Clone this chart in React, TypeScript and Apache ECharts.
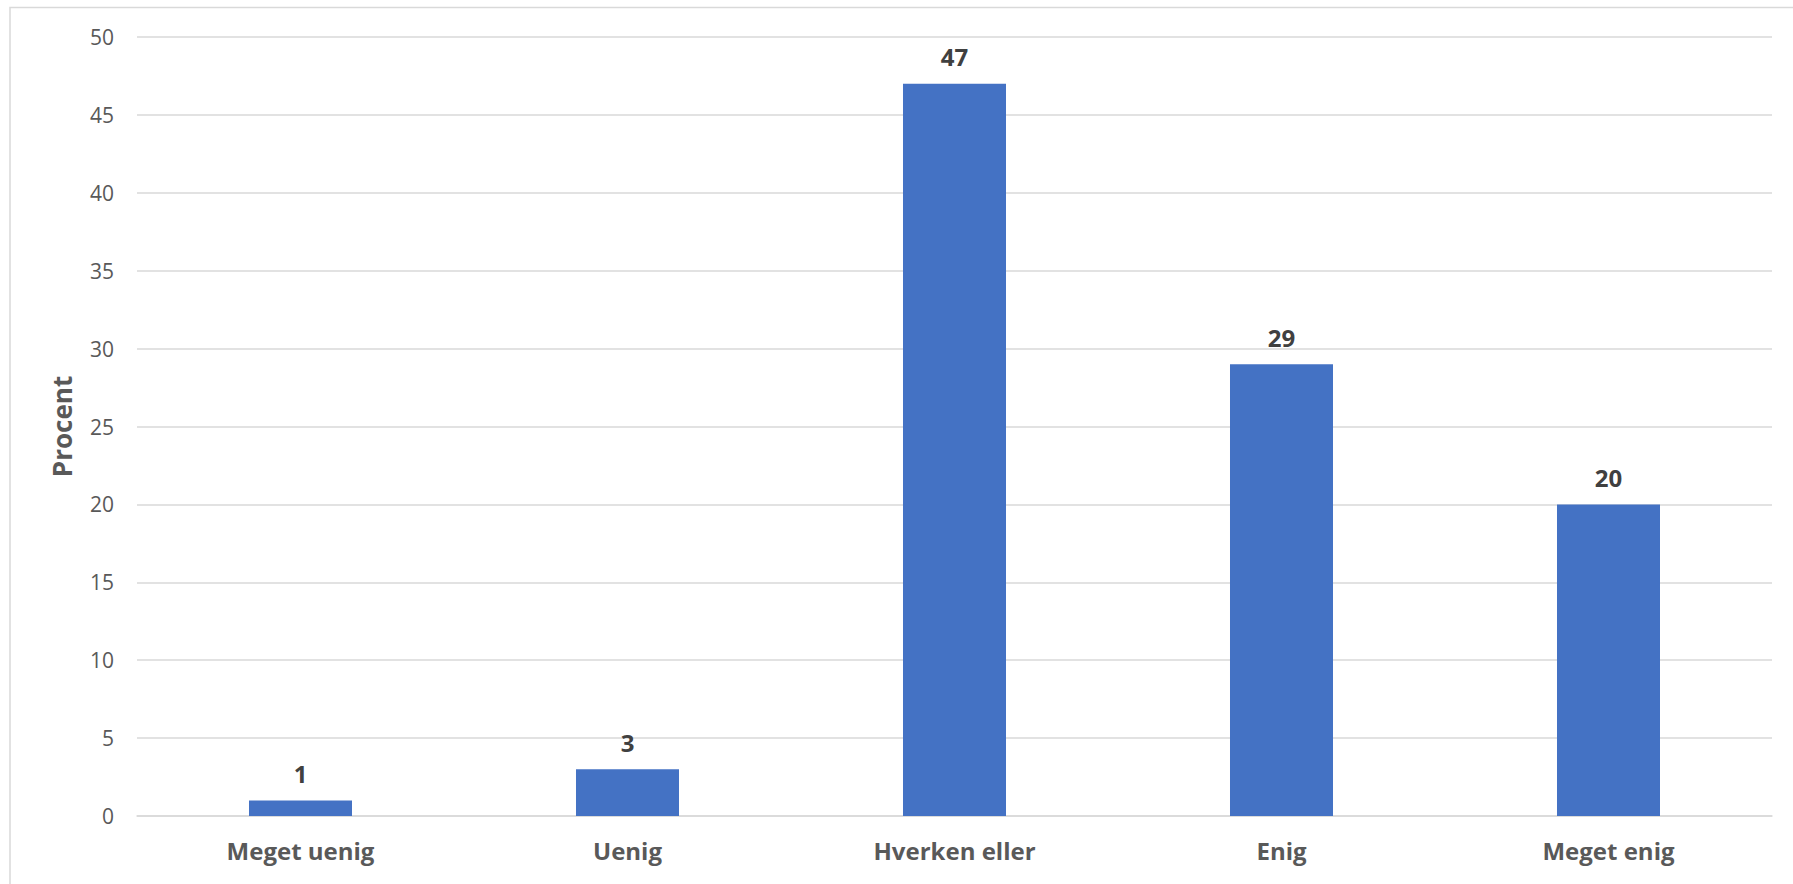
import React, { useEffect, useRef } from "react";
import * as echarts from "echarts";

const categories = ["Meget uenig", "Uenig", "Hverken eller", "Enig", "Meget enig"];
const values = [1, 3, 47, 29, 20];
const yTicks = { min: 0, max: 50, interval: 5 };

export default function App() {
  const ref = useRef<HTMLDivElement>(null);
  useEffect(() => {
    document.body.style.margin = "0";
    const chart = echarts.init(ref.current!, undefined, { renderer: "svg" });
    const font = "'Open Sans', 'Noto Sans', sans-serif";
    chart.setOption({
      animation: false,
      backgroundColor: "#ffffff",
      graphic: [
        {
          type: "rect",
          shape: { x: 10, y: 7.5, width: 2000, height: 1000 },
          style: { fill: "none", stroke: "#d9d9d9", lineWidth: 1.5 },
          silent: true,
        },
      ],
      grid: { left: 137, right: 21, top: 37, bottom: 68, containLabel: false },
      xAxis: {
        type: "category",
        data: categories,
        axisLine: { show: true, lineStyle: { color: "#d9d9d9", width: 1.5 } },
        axisTick: { show: false },
        axisLabel: {
          color: "#595959",
          fontFamily: font,
          fontWeight: "bold",
          fontSize: 24,
          margin: 22,
        },
      },
      yAxis: {
        type: "value",
        min: yTicks.min,
        max: yTicks.max,
        interval: yTicks.interval,
        name: "Procent",
        nameLocation: "middle",
        nameGap: 62,
        nameTextStyle: {
          color: "#595959",
          fontFamily: font,
          fontWeight: "bold",
          fontSize: 26,
        },
        axisLine: { show: false },
        axisTick: { show: false },
        axisLabel: { color: "#595959", fontFamily: font, fontSize: 21, margin: 23 },
        splitLine: { lineStyle: { color: "#d9d9d9", width: 1.5 } },
      },
      series: [
        {
          type: "bar",
          data: values,
          barWidth: "31.5%",
          itemStyle: { color: "#4472C4" },
          label: {
            show: true,
            position: "top",
            distance: 15,
            color: "#404040",
            fontFamily: font,
            fontWeight: "bold",
            fontSize: 24,
          },
        },
      ],
    });
    return () => chart.dispose();
  }, []);
  return <div ref={ref} style={{ width: 1793, height: 884 }} />;
}
